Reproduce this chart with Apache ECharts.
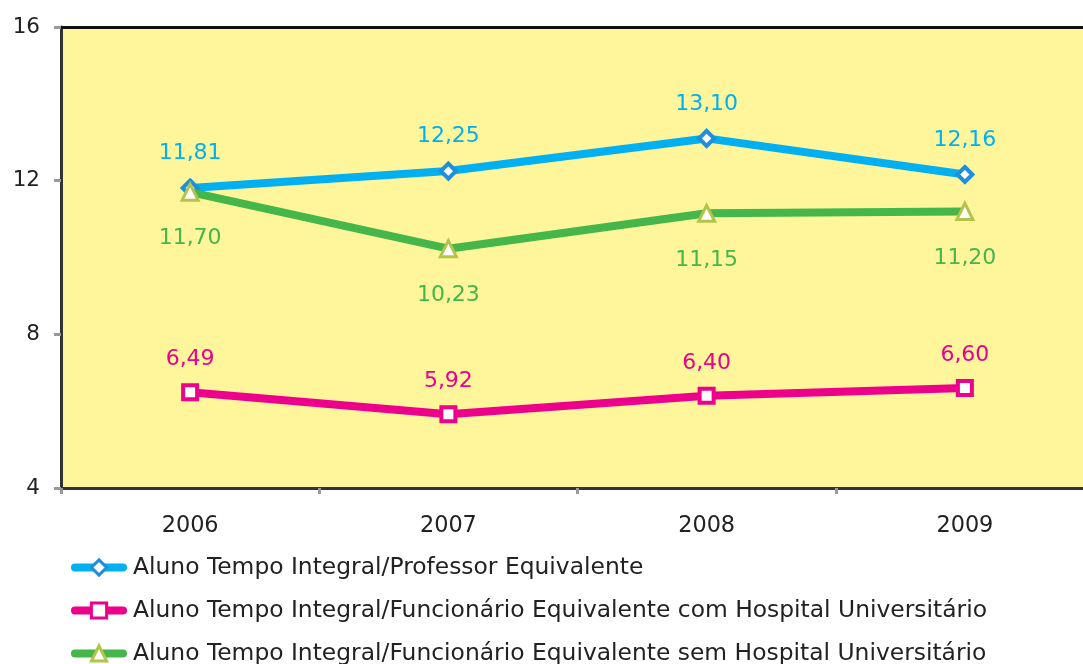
<!DOCTYPE html>
<html><head><meta charset="utf-8">
<script src="https://cdn.jsdelivr.net/npm/echarts@6/dist/echarts.min.js"></script>
<style>html,body{margin:0;padding:0;background:#fff}#c{width:1083px;height:664px}</style>
</head><body><div id="c"></div>
<script>
const categories = ['2006','2007','2008','2009'];
const professor = [11.81, 12.25, 13.10, 12.16];
const comHU = [6.49, 5.92, 6.40, 6.60];
const semHU = [11.70, 10.23, 11.15, 11.20];
const names = [
  'Aluno Tempo Integral/Professor Equivalente',
  'Aluno Tempo Integral/Funcionário Equivalente com Hospital Universitário',
  'Aluno Tempo Integral/Funcionário Equivalente sem Hospital Universitário'
];
const FONT = 'DejaVu Sans';
const fmt = p => p.value.toFixed(2).replace('.', ',');
const chart = echarts.init(document.getElementById('c'));
function lbl(color, pos, dist){
  return {show:true, position:pos, distance:dist, color:color, fontFamily:FONT, fontSize:22, formatter:fmt};
}
const legends = names.map((n, i) => ({
  orient:'vertical', left:66, top:551 + i*43, itemWidth:48, itemHeight:19, itemGap:0,
  textStyle:{fontFamily:FONT, fontSize:23.4, color:'#222', padding:[0,0,0,5]},
  lineStyle:{width:8, cap:'round'}, itemStyle:{borderWidth:3},
  data:[n]
}));
chart.setOption({
  animation:false,
  textStyle:{fontFamily:FONT},
  grid:{left:61, top:27, width:1033, height:461, show:true, backgroundColor:'#FFF59B', borderWidth:0, outerBoundsMode:'none', containLabel:false},
  legend:legends,
  xAxis:[{
    type:'category', data:categories, boundaryGap:true,
    axisLine:{lineStyle:{color:'#333', width:3}},
    axisTick:{show:true, length:6, lineStyle:{color:'#999', width:3}},
    axisLabel:{fontFamily:FONT, fontSize:22.4, color:'#222', margin:27}
  },{
    type:'category', data:categories, position:'top',
    axisLine:{lineStyle:{color:'#111', width:3}},
    axisTick:{show:false}, axisLabel:{show:false}
  }],
  yAxis:{
    type:'value', min:4, max:16, interval:4,
    axisLine:{show:true, lineStyle:{color:'#333', width:3}},
    axisTick:{show:true, length:7, lineStyle:{color:'#999', width:3}},
    splitLine:{show:false},
    axisLabel:{fontFamily:FONT, fontSize:21.5, color:'#222', margin:21}
  },
  series:[
    {name:names[0], type:'line', data:professor, symbol:'diamond', symbolSize:15,
     lineStyle:{color:'#00B0F0', width:8}, itemStyle:{color:'#fff', borderColor:'#1E8FD8', borderWidth:4},
     color:'#00B0F0', label:lbl('#00B0F0','top',14), z:3},
    {name:names[1], type:'line', data:comHU, symbol:'rect', symbolSize:14,
     lineStyle:{color:'#EC008C', width:8}, itemStyle:{color:'#fff', borderColor:'#EC008C', borderWidth:4},
     color:'#EC008C', label:lbl('#EC008C','top',13), z:3},
    {name:names[2], type:'line', data:semHU, symbol:'triangle', symbolSize:16,
     lineStyle:{color:'#45B649', width:8}, itemStyle:{color:'#fff', borderColor:'#B4C44A', borderWidth:3},
     color:'#45B649', label:lbl('#45B649','bottom',26), z:4}
  ]
});
</script></body></html>
